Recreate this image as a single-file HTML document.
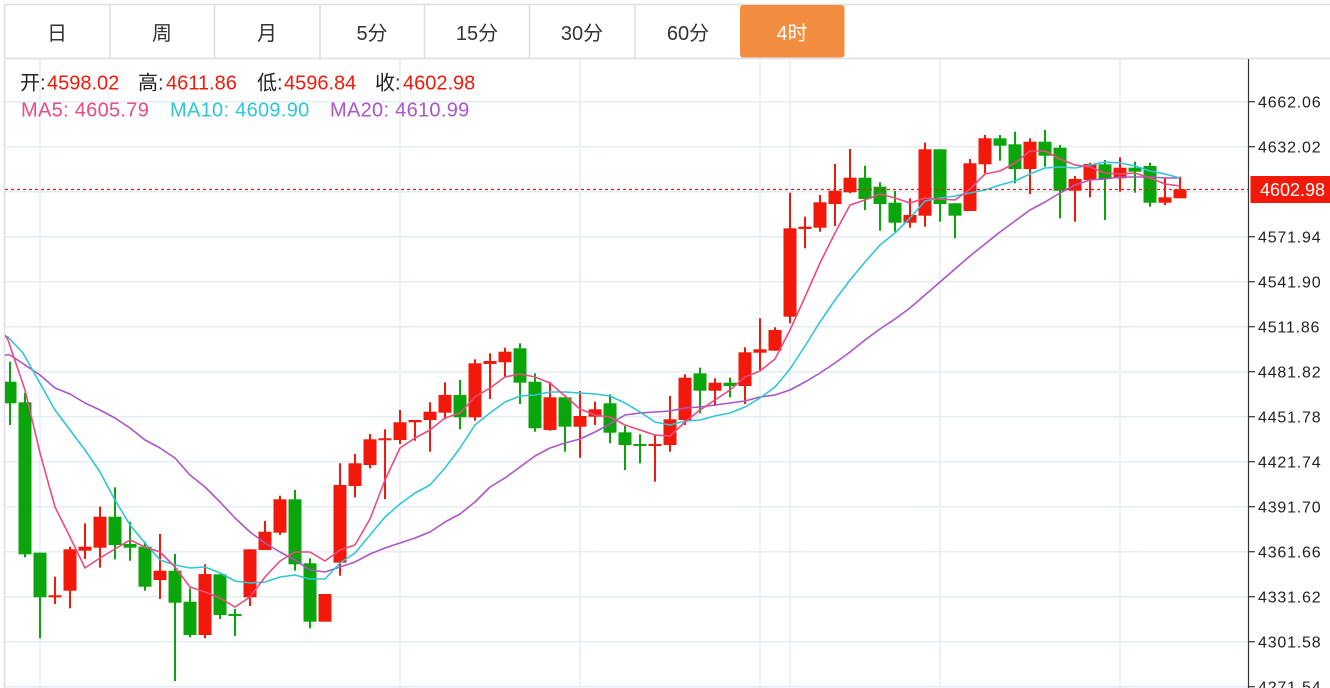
<!DOCTYPE html>
<html><head><meta charset="utf-8"><style>
html,body{margin:0;padding:0;background:#fff;}
svg{display:block;}
text{font-family:"Liberation Sans","Noto Sans CJK SC",sans-serif;}
</style></head><body>
<svg width="1330" height="688" viewBox="0 0 1330 688" xmlns="http://www.w3.org/2000/svg">
<defs><clipPath id="c"><rect x="5" y="59" width="1243" height="629"/></clipPath></defs>
<!-- tabs -->
<g stroke="#dedede" stroke-width="1.5" fill="none">
<line x1="4" y1="4.5" x2="1330" y2="4.5"/>
<line x1="4" y1="58.5" x2="1330" y2="58.5"/>
<line x1="4.5" y1="4" x2="4.5" y2="688"/>
<line x1="110" y1="4" x2="110" y2="58"/>
<line x1="214.5" y1="4" x2="214.5" y2="58"/>
<line x1="320" y1="4" x2="320" y2="58"/>
<line x1="424.5" y1="4" x2="424.5" y2="58"/>
<line x1="529.5" y1="4" x2="529.5" y2="58"/>
<line x1="635" y1="4" x2="635" y2="58"/>
</g>
<rect x="740" y="5" width="104.5" height="52.5" rx="3" fill="#f28c3e"/>
<g font-size="20" fill="#333" text-anchor="middle">
<text x="57" y="40">日</text>
<text x="162" y="40">周</text>
<text x="267" y="40">月</text>
<text x="372" y="40">5分</text>
<text x="477" y="40">15分</text>
<text x="582" y="40">30分</text>
<text x="688" y="40">60分</text>
<text x="792" y="40" fill="#fff">4时</text>
</g>
<!-- grid -->
<g stroke="#e5edf4" stroke-width="1.5">
<line x1="5" y1="101.7" x2="1248" y2="101.7"/>
<line x1="5" y1="146.7" x2="1248" y2="146.7"/>
<line x1="5" y1="191.7" x2="1248" y2="191.7"/>
<line x1="5" y1="236.7" x2="1248" y2="236.7"/>
<line x1="5" y1="281.7" x2="1248" y2="281.7"/>
<line x1="5" y1="326.7" x2="1248" y2="326.7"/>
<line x1="5" y1="371.7" x2="1248" y2="371.7"/>
<line x1="5" y1="416.7" x2="1248" y2="416.7"/>
<line x1="5" y1="461.7" x2="1248" y2="461.7"/>
<line x1="5" y1="506.7" x2="1248" y2="506.7"/>
<line x1="5" y1="551.7" x2="1248" y2="551.7"/>
<line x1="5" y1="596.7" x2="1248" y2="596.7"/>
<line x1="5" y1="641.7" x2="1248" y2="641.7"/>
<line x1="5" y1="686.7" x2="1248" y2="686.7"/>
<line x1="40" y1="59" x2="40" y2="688"/>
<line x1="400" y1="59" x2="400" y2="688"/>
<line x1="580" y1="59" x2="580" y2="688"/>
<line x1="760" y1="59" x2="760" y2="688"/>
<line x1="790" y1="59" x2="790" y2="688"/>
<line x1="940" y1="59" x2="940" y2="688"/>
<line x1="1120" y1="59" x2="1120" y2="688"/>
</g>
<g clip-path="url(#c)">
<!-- red candles -->
<g fill="#f2190b" stroke="#f2190b" stroke-width="2">
<line x1="55" y1="576.7" x2="55" y2="604"/><rect x="48.5" y="595.3" width="13" height="2" stroke="none"/>
<line x1="70" y1="546.7" x2="70" y2="608.3"/><rect x="63.5" y="549.3" width="13" height="41.4" stroke="none"/>
<line x1="85" y1="523.3" x2="85" y2="559"/><rect x="78.5" y="546.7" width="13" height="4" stroke="none"/>
<line x1="100" y1="506.7" x2="100" y2="567.7"/><rect x="93.5" y="516.7" width="13" height="31" stroke="none"/>
<line x1="160" y1="534" x2="160" y2="599"/><rect x="153.5" y="570.7" width="13" height="9.3" stroke="none"/>
<line x1="205" y1="564.3" x2="205" y2="638.3"/><rect x="198.5" y="574" width="13" height="61" stroke="none"/>
<line x1="250" y1="549.3" x2="250" y2="606"/><rect x="243.5" y="549.3" width="13" height="48" stroke="none"/>
<line x1="265" y1="521" x2="265" y2="550"/><rect x="258.5" y="531.7" width="13" height="18.3" stroke="none"/>
<line x1="280" y1="495.7" x2="280" y2="535"/><rect x="273.5" y="499.3" width="13" height="33.4" stroke="none"/>
<rect x="318.5" y="594" width="13" height="27.7" stroke="none"/>
<line x1="340" y1="463.3" x2="340" y2="575.7"/><rect x="333.5" y="485" width="13" height="77.7" stroke="none"/>
<line x1="355" y1="454" x2="355" y2="497.3"/><rect x="348.5" y="463.3" width="13" height="22.7" stroke="none"/>
<line x1="370" y1="434" x2="370" y2="468.3"/><rect x="363.5" y="439.3" width="13" height="25.7" stroke="none"/>
<line x1="385" y1="429.3" x2="385" y2="499"/><rect x="378.5" y="438.3" width="13" height="2" stroke="none"/>
<line x1="400" y1="410" x2="400" y2="444"/><rect x="393.5" y="422.3" width="13" height="17.7" stroke="none"/>
<line x1="415" y1="420" x2="415" y2="440.7"/><rect x="408.5" y="420" width="13" height="2.3" stroke="none"/>
<line x1="430" y1="402.3" x2="430" y2="451.7"/><rect x="423.5" y="411.7" width="13" height="8.3" stroke="none"/>
<line x1="445" y1="382.3" x2="445" y2="419.3"/><rect x="438.5" y="395" width="13" height="17.7" stroke="none"/>
<line x1="475" y1="359.3" x2="475" y2="420.7"/><rect x="468.5" y="363.3" width="13" height="54" stroke="none"/>
<line x1="490" y1="353.3" x2="490" y2="399"/><rect x="483.5" y="361" width="13" height="3" stroke="none"/>
<line x1="505" y1="347.7" x2="505" y2="377.3"/><rect x="498.5" y="351.7" width="13" height="10.6" stroke="none"/>
<line x1="550" y1="381.7" x2="550" y2="430.7"/><rect x="543.5" y="397.3" width="13" height="32.7" stroke="none"/>
<line x1="580" y1="391" x2="580" y2="457.7"/><rect x="573.5" y="416" width="13" height="10.7" stroke="none"/>
<line x1="595" y1="401.7" x2="595" y2="425"/><rect x="588.5" y="409.3" width="13" height="7.4" stroke="none"/>
<line x1="655" y1="435" x2="655" y2="481.7"/><rect x="648.5" y="444" width="13" height="2" stroke="none"/>
<line x1="670" y1="396" x2="670" y2="451.7"/><rect x="663.5" y="419.3" width="13" height="25.7" stroke="none"/>
<line x1="685" y1="374.3" x2="685" y2="425"/><rect x="678.5" y="377.7" width="13" height="42.3" stroke="none"/>
<line x1="715" y1="378.3" x2="715" y2="406"/><rect x="708.5" y="382.7" width="13" height="8" stroke="none"/>
<line x1="745" y1="347.3" x2="745" y2="404"/><rect x="738.5" y="352.3" width="13" height="33.7" stroke="none"/>
<line x1="760" y1="318.3" x2="760" y2="370"/><rect x="753.5" y="349.3" width="13" height="3.4" stroke="none"/>
<line x1="775" y1="327.3" x2="775" y2="350.7"/><rect x="768.5" y="330" width="13" height="20.7" stroke="none"/>
<line x1="790" y1="192.7" x2="790" y2="323.3"/><rect x="783.5" y="228.3" width="13" height="88.4" stroke="none"/>
<line x1="805" y1="216.7" x2="805" y2="248.3"/><rect x="798.5" y="226.7" width="13" height="2.3" stroke="none"/>
<line x1="820" y1="195" x2="820" y2="231.7"/><rect x="813.5" y="202.3" width="13" height="25.4" stroke="none"/>
<line x1="835" y1="164" x2="835" y2="226"/><rect x="828.5" y="190.7" width="13" height="13.3" stroke="none"/>
<line x1="850" y1="149" x2="850" y2="193.3"/><rect x="843.5" y="177.7" width="13" height="14.6" stroke="none"/>
<line x1="910" y1="198.3" x2="910" y2="227.7"/><rect x="903.5" y="215" width="13" height="7.7" stroke="none"/>
<line x1="925" y1="142.7" x2="925" y2="226.7"/><rect x="918.5" y="149.3" width="13" height="66.4" stroke="none"/>
<line x1="970" y1="159" x2="970" y2="211"/><rect x="963.5" y="163.3" width="13" height="47.7" stroke="none"/>
<line x1="985" y1="135" x2="985" y2="173.3"/><rect x="978.5" y="138.3" width="13" height="26" stroke="none"/>
<line x1="1030" y1="138.3" x2="1030" y2="194"/><rect x="1023.5" y="141.7" width="13" height="27.3" stroke="none"/>
<line x1="1075" y1="176" x2="1075" y2="221.7"/><rect x="1068.5" y="179" width="13" height="11.7" stroke="none"/>
<line x1="1090" y1="162.7" x2="1090" y2="197.3"/><rect x="1083.5" y="164" width="13" height="16" stroke="none"/>
<line x1="1120" y1="157.3" x2="1120" y2="191.7"/><rect x="1113.5" y="167.7" width="13" height="10.6" stroke="none"/>
<line x1="1165" y1="178.3" x2="1165" y2="205"/><rect x="1158.5" y="197.3" width="13" height="5.4" stroke="none"/>
<line x1="1180" y1="176.7" x2="1180" y2="198.3"/><rect x="1173.5" y="189.3" width="13" height="9" stroke="none"/>
</g>
<!-- green candles -->
<g fill="#0aa50a" stroke="#0aa50a" stroke-width="2">
<line x1="10" y1="361.7" x2="10" y2="425"/><rect x="3.5" y="381.7" width="13" height="21.6" stroke="none"/>
<line x1="25" y1="392.7" x2="25" y2="557.3"/><rect x="18.5" y="402.3" width="13" height="152" stroke="none"/>
<line x1="40" y1="552.7" x2="40" y2="638.3"/><rect x="33.5" y="552.7" width="13" height="44.6" stroke="none"/>
<line x1="115" y1="487.3" x2="115" y2="559.3"/><rect x="108.5" y="516.7" width="13" height="28.3" stroke="none"/>
<line x1="130" y1="521.7" x2="130" y2="560.7"/><rect x="123.5" y="544" width="13" height="3.7" stroke="none"/>
<line x1="145" y1="541.7" x2="145" y2="590.7"/><rect x="138.5" y="546.7" width="13" height="40" stroke="none"/>
<line x1="175" y1="554" x2="175" y2="681"/><rect x="168.5" y="570.7" width="13" height="32" stroke="none"/>
<line x1="190" y1="588.3" x2="190" y2="637.3"/><rect x="183.5" y="601.7" width="13" height="33.3" stroke="none"/>
<line x1="220" y1="574.3" x2="220" y2="619"/><rect x="213.5" y="574.3" width="13" height="40.7" stroke="none"/>
<line x1="235" y1="609" x2="235" y2="636"/><rect x="228.5" y="614" width="13" height="2" stroke="none"/>
<line x1="295" y1="490" x2="295" y2="570.7"/><rect x="288.5" y="499.3" width="13" height="65" stroke="none"/>
<line x1="310" y1="558.3" x2="310" y2="628.3"/><rect x="303.5" y="563.3" width="13" height="58.4" stroke="none"/>
<line x1="460" y1="380" x2="460" y2="429.3"/><rect x="453.5" y="395" width="13" height="22.3" stroke="none"/>
<line x1="520" y1="343.3" x2="520" y2="404"/><rect x="513.5" y="348.3" width="13" height="34.4" stroke="none"/>
<line x1="535" y1="373.3" x2="535" y2="431.7"/><rect x="528.5" y="381.7" width="13" height="46.6" stroke="none"/>
<line x1="565" y1="397.3" x2="565" y2="451.7"/><rect x="558.5" y="397.3" width="13" height="29.4" stroke="none"/>
<line x1="610" y1="394.3" x2="610" y2="443.3"/><rect x="603.5" y="403.3" width="13" height="29.4" stroke="none"/>
<line x1="625" y1="426" x2="625" y2="470"/><rect x="618.5" y="432.3" width="13" height="12.7" stroke="none"/>
<line x1="640" y1="434.3" x2="640" y2="463.3"/><rect x="633.5" y="444" width="13" height="2" stroke="none"/>
<line x1="700" y1="367.7" x2="700" y2="413.3"/><rect x="693.5" y="373.3" width="13" height="17.4" stroke="none"/>
<line x1="730" y1="377.7" x2="730" y2="397.3"/><rect x="723.5" y="382.7" width="13" height="3.3" stroke="none"/>
<line x1="865" y1="165.7" x2="865" y2="210"/><rect x="858.5" y="177.7" width="13" height="21.3" stroke="none"/>
<line x1="880" y1="182.3" x2="880" y2="230.7"/><rect x="873.5" y="186.7" width="13" height="17.3" stroke="none"/>
<line x1="895" y1="191" x2="895" y2="231.7"/><rect x="888.5" y="202.7" width="13" height="20" stroke="none"/>
<line x1="940" y1="149.3" x2="940" y2="221.7"/><rect x="933.5" y="149.3" width="13" height="54.7" stroke="none"/>
<line x1="955" y1="203.3" x2="955" y2="238.3"/><rect x="948.5" y="203.3" width="13" height="12.4" stroke="none"/>
<line x1="1000" y1="135" x2="1000" y2="160.7"/><rect x="993.5" y="138.3" width="13" height="7.4" stroke="none"/>
<line x1="1015" y1="131.7" x2="1015" y2="183.3"/><rect x="1008.5" y="144.3" width="13" height="24.7" stroke="none"/>
<line x1="1045" y1="130" x2="1045" y2="166.7"/><rect x="1038.5" y="141.7" width="13" height="14" stroke="none"/>
<line x1="1060" y1="145" x2="1060" y2="218.3"/><rect x="1053.5" y="147.7" width="13" height="43" stroke="none"/>
<line x1="1105" y1="160" x2="1105" y2="220"/><rect x="1098.5" y="164.3" width="13" height="14.7" stroke="none"/>
<line x1="1135" y1="161.7" x2="1135" y2="192.7"/><rect x="1128.5" y="167.7" width="13" height="4" stroke="none"/>
<line x1="1150" y1="162.7" x2="1150" y2="206.7"/><rect x="1143.5" y="166" width="13" height="36.7" stroke="none"/>
</g>
<!-- MA lines -->
<g fill="none" stroke-width="1.6" stroke-linejoin="round">
<polyline stroke="#ad55c7" points="5,355 10,355 25,365 40,375 55,388 70,394 85,403 100,410 115,418 130,428 145,440 160,448 175,458 190,475 205,487 220,502 235,518 250,532 265,543 280,552 295,560 310,570 325,572 340,567 355,562 370,554 385,548 400,543 415,538 430,532 445,522 460,514 475,502 490,487 505,478 520,467 535,456 550,448 565,443 580,439 595,432 610,424 625,415 640,413 655,412 670,411 685,408 700,407 715,405 730,403 745,401 760,397 775,395 790,390 805,382 820,373 835,363 850,352 865,340 880,329 895,319 910,308 925,295 940,282 955,269 970,256 985,244 1000,232 1015,221 1030,210 1045,202 1060,193 1075,185 1090,180 1105,179 1120,177 1135,177 1150,177 1165,178 1180,178"/>
<polyline stroke="#2fc6d9" points="5,336 8,337 23,353 55,410 85,450 100,472 115,500 130,525 145,543 160,560 175,565 190,568 205,567 220,573 235,581 250,583 265,582 280,577 295,575 310,579 325,579 340,563 355,553 370,535 385,517 400,504 415,493 430,485 445,468 460,448 475,425 490,413 505,402 520,396 535,395 550,392 565,392 580,393 595,394 610,396 625,403 640,412 655,422 670,425 685,421 700,420 715,416 730,413 745,407 760,398 775,387 790,369 805,346 820,322 835,300 850,280 865,262 880,245 895,233 910,218 925,201 940,198 955,196 970,193 985,190 1000,185 1015,181 1030,174 1045,168 1060,167 1075,168 1090,165 1105,162 1120,163 1135,166 1150,171 1165,174 1180,178"/>
<polyline stroke="#ea4b82" points="5,335 8,340 25,390 40,453 55,507 70,537 85,568 100,558 115,549 130,540 145,547 160,552 175,567 190,587 205,592 220,598 235,607 250,597 265,577 280,561 295,552 310,552 325,561 340,550 355,545 370,519 385,480 400,448 415,438 430,430 445,418 460,413 475,397 490,388 505,377 520,374 535,377 550,383 565,396 580,409 595,415 610,417 625,425 640,430 655,435 670,436 685,422 700,410 715,400 730,390 745,377 760,371 775,359 790,330 805,297 820,263 835,233 850,205 865,200 880,194 895,198 910,203 925,198 940,199 955,200 970,189 985,174 1000,171 1015,163 1030,151 1045,151 1060,159 1075,165 1090,167 1105,173 1120,174 1135,173 1150,178 1165,184 1180,186"/>
</g>
</g>
<!-- last price dashed line -->
<line x1="5" y1="189.5" x2="1248" y2="189.5" stroke="#f2190b" stroke-width="1.2" stroke-dasharray="3,3"/>
<!-- axis -->
<line x1="1248.5" y1="59" x2="1248.5" y2="688" stroke="#333" stroke-width="1.2"/>
<g stroke="#333" stroke-width="1.2">
<line x1="1248" y1="101.7" x2="1255" y2="101.7"/>
<line x1="1248" y1="146.7" x2="1255" y2="146.7"/>
<line x1="1248" y1="236.7" x2="1255" y2="236.7"/>
<line x1="1248" y1="281.7" x2="1255" y2="281.7"/>
<line x1="1248" y1="326.7" x2="1255" y2="326.7"/>
<line x1="1248" y1="371.7" x2="1255" y2="371.7"/>
<line x1="1248" y1="416.7" x2="1255" y2="416.7"/>
<line x1="1248" y1="461.7" x2="1255" y2="461.7"/>
<line x1="1248" y1="506.7" x2="1255" y2="506.7"/>
<line x1="1248" y1="551.7" x2="1255" y2="551.7"/>
<line x1="1248" y1="596.7" x2="1255" y2="596.7"/>
<line x1="1248" y1="641.7" x2="1255" y2="641.7"/>
<line x1="1248" y1="686.7" x2="1255" y2="686.7"/>
</g>
<g font-size="16" fill="#222" letter-spacing="0.8">
<text x="1258" y="107.4">4662.06</text>
<text x="1258" y="152.4">4632.02</text>
<text x="1258" y="242.4">4571.94</text>
<text x="1258" y="287.4">4541.90</text>
<text x="1258" y="332.4">4511.86</text>
<text x="1258" y="377.4">4481.82</text>
<text x="1258" y="422.4">4451.78</text>
<text x="1258" y="467.4">4421.74</text>
<text x="1258" y="512.4">4391.70</text>
<text x="1258" y="557.4">4361.66</text>
<text x="1258" y="602.4">4331.62</text>
<text x="1258" y="647.4">4301.58</text>
<text x="1258" y="692.4">4271.54</text>
</g>
<rect x="1250.5" y="176" width="79.5" height="27" fill="#f2190b"/>
<text x="1260" y="196" font-size="18" fill="#fff">4602.98</text>
<!-- header info -->
<g font-size="20">
<text x="20" y="89.5" fill="#222">开:</text><text x="47" y="89.5" fill="#f2190b">4598.02</text>
<text x="138" y="89.5" fill="#222">高:</text><text x="166" y="89.5" fill="#f2190b">4611.86</text>
<text x="257" y="89.5" fill="#222">低:</text><text x="284" y="89.5" fill="#f2190b">4596.84</text>
<text x="375" y="89.5" fill="#222">收:</text><text x="403" y="89.5" fill="#f2190b">4602.98</text>
</g>
<g font-size="20" letter-spacing="0.3">
<text x="21" y="116.5" fill="#ea4b82">MA5: 4605.79</text>
<text x="170" y="116.5" fill="#2fc6d9">MA10: 4609.90</text>
<text x="330" y="116.5" fill="#ad55c7">MA20: 4610.99</text>
</g>
</svg>
</body></html>
